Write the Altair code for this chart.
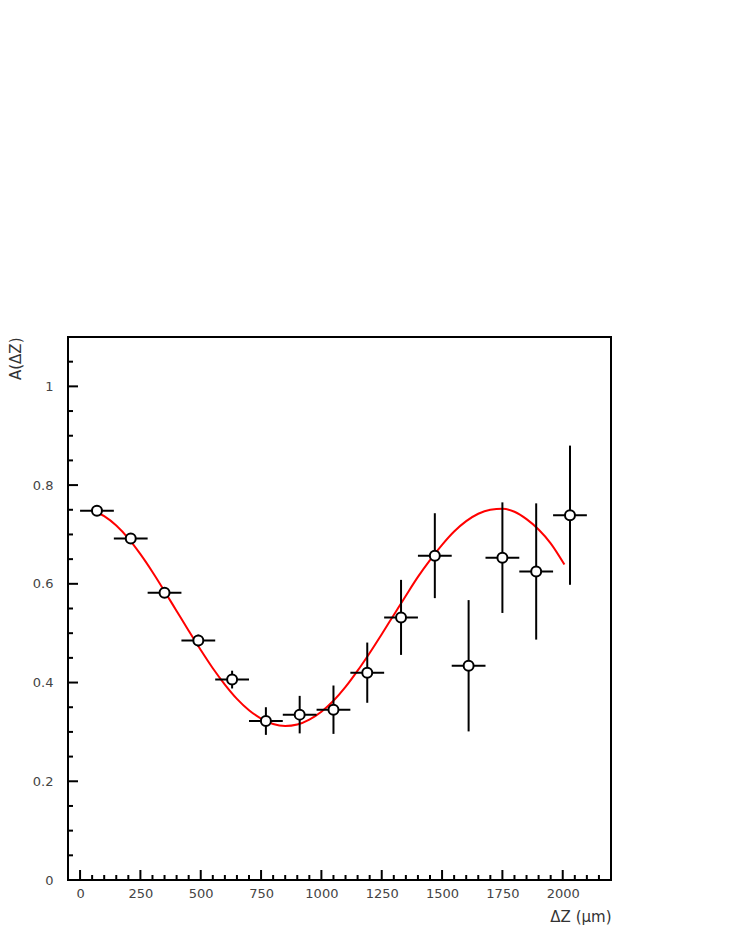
import altair as alt
import pandas as pd

# Measured points
dz_center = [70, 210, 350, 490, 630, 770, 910, 1050, 1190, 1330, 1470, 1610, 1750, 1890, 2030]
a_value = [0.748, 0.692, 0.582, 0.485, 0.406, 0.322, 0.335, 0.345, 0.420, 0.532, 0.657, 0.434, 0.653, 0.625, 0.739]
a_error = [0.006, 0.008, 0.010, 0.012, 0.018, 0.028, 0.038, 0.049, 0.061, 0.076, 0.086, 0.133, 0.112, 0.138, 0.141]
dz_halfwidth = [70] * 15

# Fitted curve
fit_z = [70, 100, 150, 200, 250, 300, 350, 400, 450, 500, 550, 600, 650, 700, 750, 800, 850, 900, 950,
         1000, 1050, 1100, 1150, 1200, 1250, 1300, 1350, 1400, 1450, 1500, 1550, 1600, 1650, 1700, 1750,
         1800, 1850, 1900, 1950, 2007]
fit_a = [0.745, 0.737, 0.718, 0.692, 0.660, 0.624, 0.585, 0.545, 0.505, 0.466, 0.429, 0.396, 0.367, 0.344,
         0.327, 0.316, 0.312, 0.315, 0.325, 0.341, 0.363, 0.391, 0.424, 0.460, 0.498, 0.537, 0.576, 0.614,
         0.648, 0.679, 0.706, 0.727, 0.742, 0.750, 0.752, 0.746, 0.731, 0.710, 0.682, 0.639]

# Axis tick values
x_major = [0, 250, 500, 750, 1000, 1250, 1500, 1750, 2000]
x_minor = [v for v in range(50, 2200, 50) if v % 250 != 0]
y_major = [0, 0.2, 0.4, 0.6, 0.8, 1.0]
y_minor = [0.05, 0.1, 0.15, 0.25, 0.3, 0.35, 0.45, 0.5, 0.55, 0.65, 0.7, 0.75, 0.85, 0.9, 0.95, 1.05]

W = 543
H = 543

pts = pd.DataFrame({
    "z": dz_center,
    "a": a_value,
    "zlo": [z - h for z, h in zip(dz_center, dz_halfwidth)],
    "zhi": [z + h for z, h in zip(dz_center, dz_halfwidth)],
    "alo": [a - e for a, e in zip(a_value, a_error)],
    "ahi": [a + e for a, e in zip(a_value, a_error)],
})
fit = pd.DataFrame({"z": fit_z, "a": fit_a})

xscale = alt.Scale(domain=[-50, 2200], nice=False, zero=False)
yscale = alt.Scale(domain=[0, 1.1], nice=False, zero=False)

lab = dict(labelFont="DejaVu Sans", labelFontSize=13, labelColor="#444444",
           ticks=False, domain=False, grid=False,
           titleFont="DejaVu Sans", titleFontSize=15, titleFontWeight="normal", titleColor="#333333")

xaxis = alt.Axis(values=x_major, format="d", labelPadding=7, title="ΔZ (μm)",
                 titleAlign="right", titleAnchor="end", titleX=W, titleY=41,
                 titleBaseline="alphabetic", **lab)
yaxis = alt.Axis(values=y_major, format="~g", labelPadding=15, title="A(ΔZ)",
                 titleAngle=270, titleAlign="right", titleX=-53, titleY=0,
                 titleBaseline="middle", **lab)

base_x = alt.X("z:Q", scale=xscale, axis=xaxis)
base_y = alt.Y("a:Q", scale=yscale, axis=yaxis)

curve = alt.Chart(fit).mark_line(color="#ff0000", strokeWidth=2, interpolate="monotone").encode(
    x=base_x, y=base_y)
hbars = alt.Chart(pts).mark_rule(color="black", strokeWidth=2).encode(
    x=alt.X("zlo:Q", scale=xscale, axis=xaxis), x2="zhi:Q", y=base_y)
vbars = alt.Chart(pts).mark_rule(color="black", strokeWidth=2).encode(
    x=base_x, y=alt.Y("alo:Q", scale=yscale, axis=yaxis), y2="ahi:Q")
markers = alt.Chart(pts).mark_point(shape="circle", filled=True, fill="white", stroke="black",
                                    strokeWidth=2, size=100, opacity=1).encode(x=base_x, y=base_y)

xmaj = alt.Chart(pd.DataFrame({"v": x_major})).mark_rule(color="black", strokeWidth=2).encode(
    x=alt.X("v:Q", scale=xscale, axis=xaxis), y=alt.value(H), y2=alt.value(H - 10))
xmin = alt.Chart(pd.DataFrame({"v": x_minor})).mark_rule(color="black", strokeWidth=2).encode(
    x=alt.X("v:Q", scale=xscale, axis=xaxis), y=alt.value(H), y2=alt.value(H - 5))
ymaj = alt.Chart(pd.DataFrame({"v": y_major})).mark_rule(color="black", strokeWidth=2).encode(
    y=alt.Y("v:Q", scale=yscale, axis=yaxis), x=alt.value(0), x2=alt.value(10))
ymin = alt.Chart(pd.DataFrame({"v": y_minor})).mark_rule(color="black", strokeWidth=2).encode(
    y=alt.Y("v:Q", scale=yscale, axis=yaxis), x=alt.value(0), x2=alt.value(5))

chart = alt.layer(curve, hbars, vbars, markers, xmaj, xmin, ymaj, ymin).properties(
    width=W, height=H,
    background="white",
    autosize=alt.AutoSizeParams(type="none"),
    padding={"left": 60, "top": 329, "right": 100, "bottom": 60},
).configure_view(stroke="black", strokeWidth=2)

chart.save("out.html", embed_options={"renderer": "svg", "actions": False})
